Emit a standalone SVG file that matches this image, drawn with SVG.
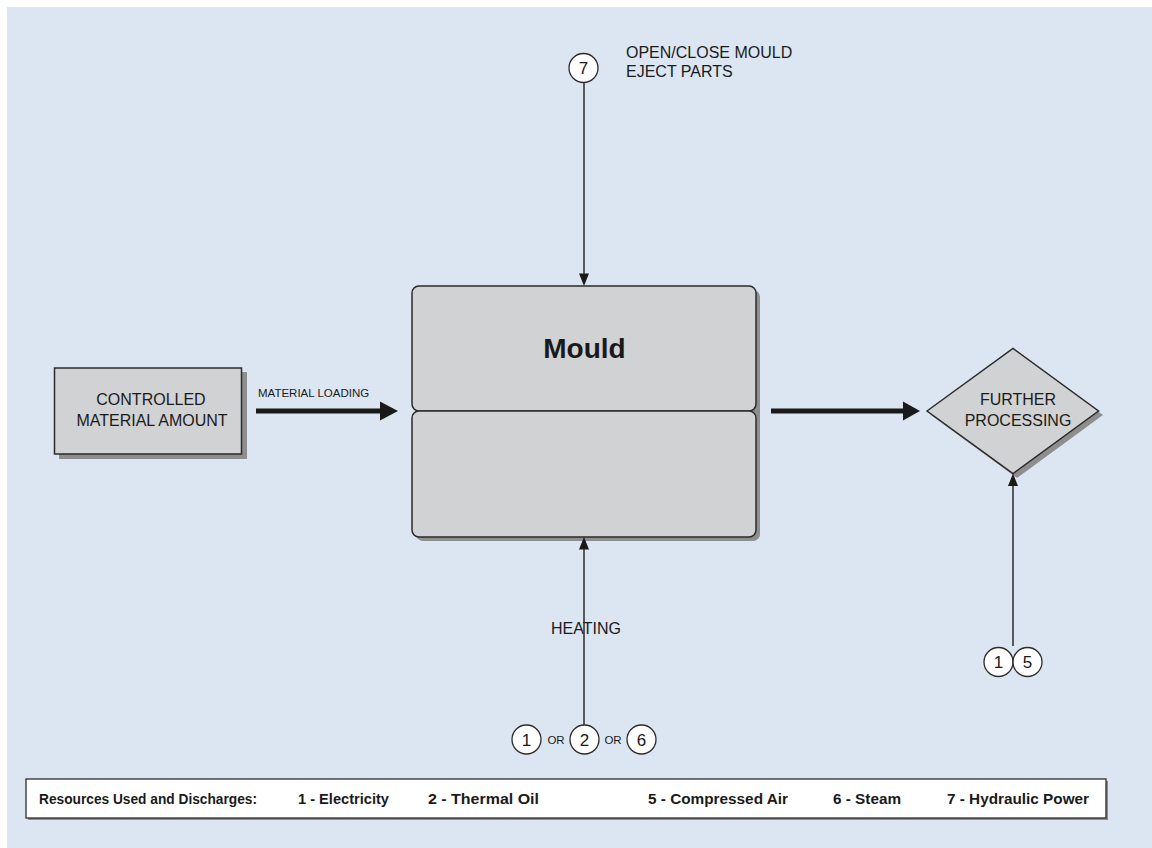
<svg xmlns="http://www.w3.org/2000/svg" width="1152" height="848" viewBox="0 0 1152 848">
  <defs>
    <style>
      text { font-family: "Liberation Sans", Arial, sans-serif; fill: #1a1a1a; }
      .node { fill: #d1d2d4; stroke: #2b2b2b; stroke-width: 1.5; }
      .shadow { fill: #8e8e8e; }
      .lbl { font-size: 16px; }
      .small { font-size: 11.5px; }
      .legend { font-size: 14.5px; font-weight: bold; }
      .circ { fill: #ffffff; stroke: #2b2b2b; stroke-width: 1.3; }
      .num { font-size: 17px; text-anchor: middle; }
      .thin { stroke: #2b2b2b; stroke-width: 1.5; fill: none; }
      .thick { stroke: #1a1a1a; stroke-width: 5; fill: none; }
      .head { fill: #1a1a1a; }
    </style>
  </defs>

  <rect x="7" y="7" width="1145" height="841" fill="#dce6f2"/>

  <g id="material">
    <rect class="shadow" x="59" y="372" width="188" height="87"/>
    <rect class="node" x="54.5" y="368" width="187" height="86"/>
    <text class="lbl" x="151" y="405" text-anchor="middle">CONTROLLED</text>
    <text class="lbl" x="152" y="426" text-anchor="middle">MATERIAL AMOUNT</text>
  </g>

  <g id="mould">
    <rect class="shadow" x="416" y="290" width="344" height="251" rx="7"/>
    <rect class="node" x="412" y="286" width="344" height="125" rx="7"/>
    <rect class="node" x="412" y="411" width="344" height="126" rx="7"/>
    <text x="584.5" y="358" text-anchor="middle" font-size="28" font-weight="bold">Mould</text>
  </g>

  <g id="further">
    <polygon class="shadow" points="931,415 1017,352 1103,415 1017,478"/>
    <polygon class="node" points="927,411 1013,348.5 1098.5,411 1013,473.5"/>
    <text class="lbl" x="1018" y="405" text-anchor="middle">FURTHER</text>
    <text class="lbl" x="1018" y="426" text-anchor="middle">PROCESSING</text>
  </g>

  <g id="res7">
    <circle class="circ" cx="583.5" cy="68" r="14.5"/>
    <text class="num" x="583.5" y="74">7</text>
    <text class="lbl" x="626" y="58">OPEN/CLOSE MOULD</text>
    <text class="lbl" x="626" y="77">EJECT PARTS</text>
  </g>

  <g id="heating">
    <text class="lbl" x="586" y="634" text-anchor="middle">HEATING</text>
    <circle class="circ" cx="526.5" cy="739.5" r="14.5"/>
    <text class="num" x="526.5" y="745.5">1</text>
    <text class="small" x="556" y="743.5" text-anchor="middle">OR</text>
    <circle class="circ" cx="584.5" cy="739.5" r="14.5"/>
    <text class="num" x="584.5" y="745.5">2</text>
    <text class="small" x="613" y="743.5" text-anchor="middle">OR</text>
    <circle class="circ" cx="641.5" cy="739.5" r="14.5"/>
    <text class="num" x="641.5" y="745.5">6</text>
  </g>

  <g id="res15">
    <circle class="circ" cx="998.5" cy="662" r="14.5"/>
    <text class="num" x="998.5" y="668">1</text>
    <circle class="circ" cx="1027.5" cy="662" r="14.5"/>
    <text class="num" x="1027.5" y="668">5</text>
  </g>

  <g id="connectors">
    <line class="thick" x1="256" y1="411" x2="382" y2="411"/>
    <polygon class="head" points="380,401.5 398,411 380,420.5"/>
    <text class="small" x="258" y="397">MATERIAL LOADING</text>

    <line class="thick" x1="771" y1="411" x2="905" y2="411"/>
    <polygon class="head" points="903,401.5 920,411 903,420.5"/>

    <line class="thin" x1="584" y1="82.5" x2="584" y2="275"/>
    <polygon class="head" points="579,273.5 584,286 589,273.5"/>

    <line class="thin" x1="584" y1="725" x2="584" y2="548"/>
    <polygon class="head" points="579,549.5 584,537 589,549.5"/>

    <line class="thin" x1="1013" y1="646" x2="1013" y2="485"/>
    <polygon class="head" points="1008,486 1013,473.5 1018,486"/>
  </g>

  <g id="legend">
    <rect x="28" y="781" width="1080" height="39" fill="#8e8e8e"/>
    <rect x="26" y="779" width="1080" height="39" fill="#ffffff" stroke="#2b2b2b" stroke-width="1.3"/>
    <text class="legend" x="39" y="804" textLength="218" lengthAdjust="spacingAndGlyphs">Resources Used and Discharges:</text>
    <text class="legend" x="298" y="804" textLength="91" lengthAdjust="spacingAndGlyphs">1 - Electricity</text>
    <text class="legend" x="428" y="804" textLength="111" lengthAdjust="spacingAndGlyphs">2 - Thermal Oil</text>
    <text class="legend" x="648" y="804" textLength="140" lengthAdjust="spacingAndGlyphs">5 - Compressed Air</text>
    <text class="legend" x="833" y="804" textLength="68" lengthAdjust="spacingAndGlyphs">6 - Steam</text>
    <text class="legend" x="947" y="804" textLength="142" lengthAdjust="spacingAndGlyphs">7 - Hydraulic Power</text>
  </g>
</svg>
